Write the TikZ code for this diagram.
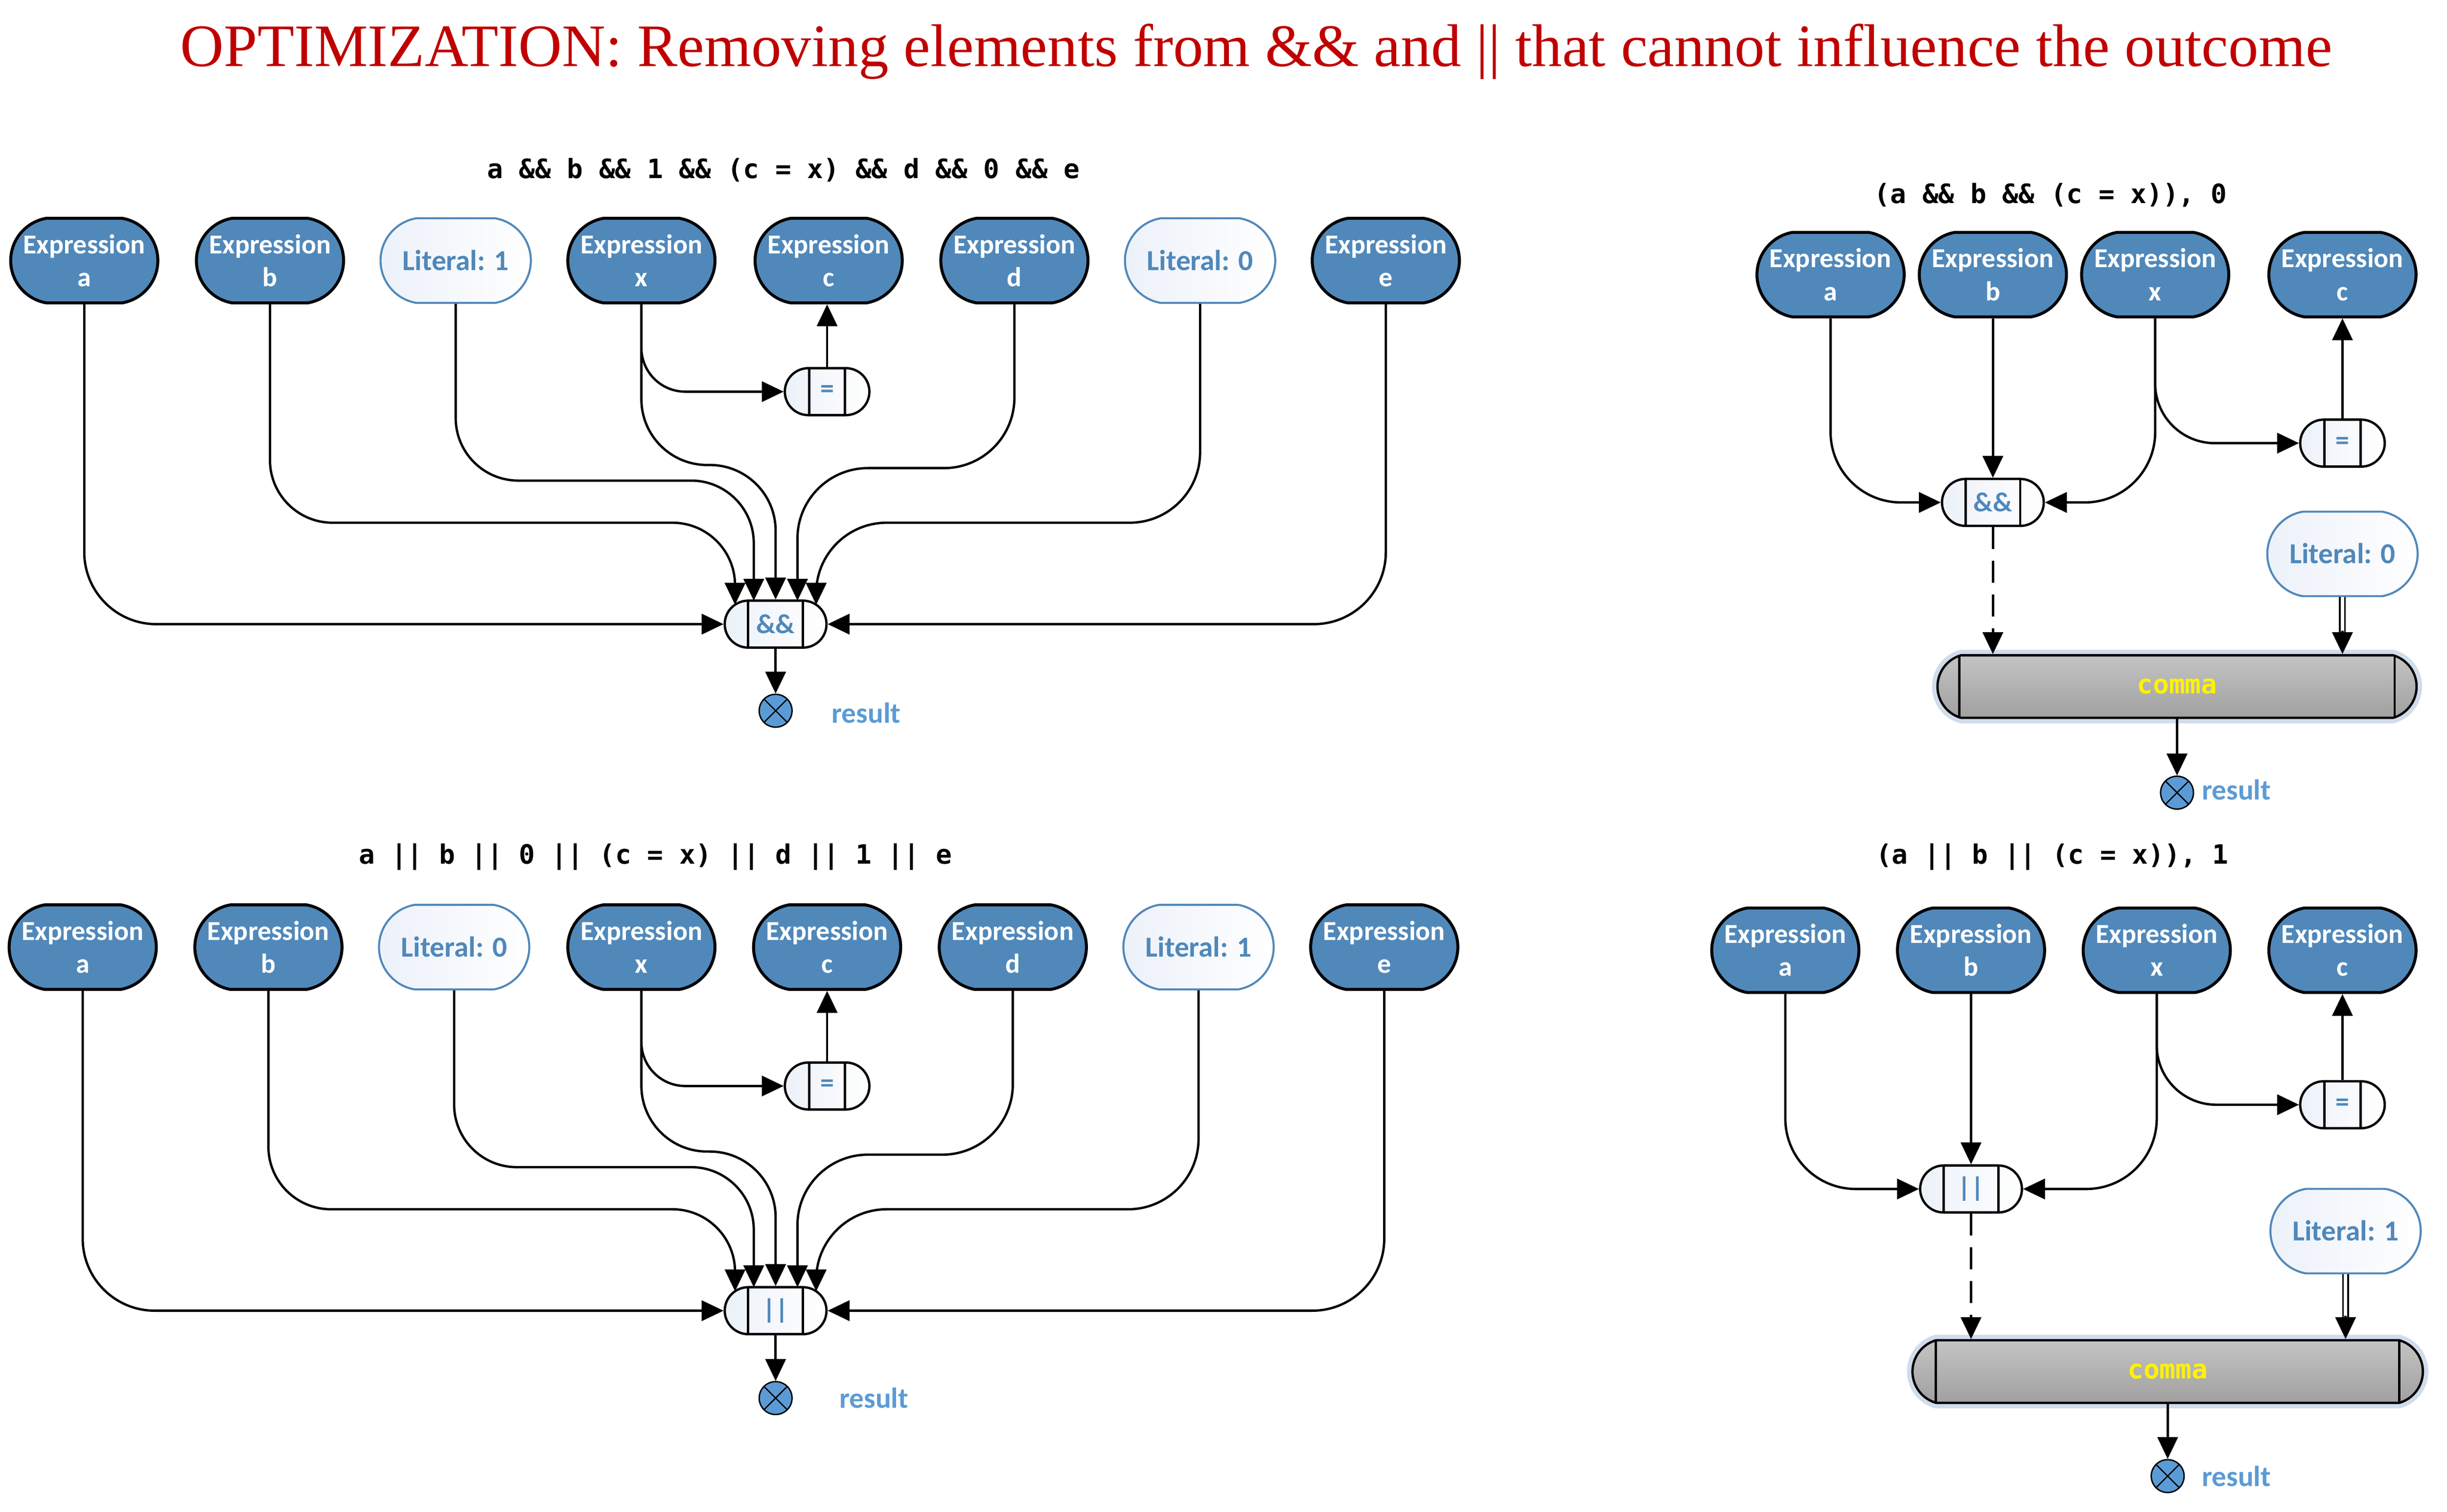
\documentclass[tikz,border=0pt]{standalone}
\usepackage{fontspec}
\setmainfont{Carlito}
\newfontfamily\titlefont{Liberation Serif}
\newfontfamily\codefont{DejaVu Sans Mono}
\usetikzlibrary{shapes.misc,arrows.meta,calc}
\definecolor{exprblue}{RGB}{80,136,186}
\definecolor{resblue}{RGB}{91,155,213}
\definecolor{litfill}{RGB}{236,241,249}
\definecolor{titlered}{RGB}{192,0,0}
\definecolor{commatop}{RGB}{196,196,196}
\definecolor{commabot}{RGB}{160,160,160}
\definecolor{commaglow}{RGB}{150,178,212}
\newcommand{\ztext}[1]{\makebox[0pt]{\raisebox{-1.8pt}[\height][\depth]{\begin{tabular}{@{}c@{}}#1\end{tabular}}}}
\tikzset{
  nfont/.style={font=\bfseries\fontsize{17.5}{21}\selectfont},
  bigfont/.style={font=\bfseries\fontsize{18.5}{22}\selectfont},
  expr/.style={rounded rectangle, rounded rectangle arc length=160, minimum width=94pt, minimum height=54pt, inner sep=0pt, fill=exprblue, draw=black, line width=1.9pt, text=white, nfont},
  lit/.style={rounded rectangle, rounded rectangle arc length=160, minimum width=96pt, minimum height=54pt, inner sep=0pt, draw=exprblue, line width=1.3pt, left color=litfill, right color=white, text=exprblue, bigfont},
  opnode/.style={rounded rectangle, rounded rectangle arc length=180, minimum height=30pt, inner sep=0pt, draw=black, line width=1.5pt, left color=litfill, right color=white, text=exprblue, nfont,
    path picture={\draw[black,line width=1.5pt] ([xshift=-#1]path picture bounding box.north) -- ([xshift=-#1]path picture bounding box.south) ([xshift=#1]path picture bounding box.north) -- ([xshift=#1]path picture bounding box.south);}},
  andor/.style={opnode=17.5pt, minimum width=65pt},
  assign/.style={opnode=11.5pt, minimum width=54pt},
  commanode/.style={opnode=#1, rounded rectangle arc length=148, minimum height=40pt, top color=commatop, bottom color=commabot, text=yellow, font=\codefont\bfseries\fontsize{17}{20}\selectfont, preaction={draw=commaglow, line width=7pt, opacity=0.45}},
  result/.style={circle, minimum size=21pt, inner sep=0pt, fill=resblue, draw=black, line width=0.9pt,
    path picture={\draw[black, line width=0.8pt] (path picture bounding box.north west) -- (path picture bounding box.south east) (path picture bounding box.north east) -- (path picture bounding box.south west);}},
  reslabel/.style={text=resblue, bigfont},
  code/.style={font=\codefont\bfseries\fontsize{17}{20}\selectfont},
  conn/.style={line width=1.5pt, -{Triangle[length=14pt,width=13pt]}},
  dashconn/.style={conn, dash pattern=on 14pt off 7.5pt},
  dbl/.style={line width=1.1pt, double=white, double distance=2.2pt, shorten >=13pt},
}
\begin{document}
\begin{tikzpicture}[x=0.9968pt,y=-0.9968pt]
\useasboundingbox (0,0) rectangle (1568,968.75);

% title
\node[font=\titlefont\fontsize{38.5}{42}\selectfont, text=titlered] (title) at (805,33) {OPTIMIZATION: Removing elements from \&\& and || that cannot influence the outcome};

% ===== top-left =====
\node[code] (codeTL) at (502,109) {a \&\& b \&\& 1 \&\& (c = x) \&\& d \&\& 0 \&\& e};
\node[expr] (aTL) at (54,167) {\ztext{Expression\\a}};
\node[expr] (bTL) at (173,167) {\ztext{Expression\\b}};
\node[lit] (l1TL) at (292,167) {\ztext{Literal: 1}};
\node[expr] (xTL) at (411,167) {\ztext{Expression\\x}};
\node[expr] (cTL) at (531,167) {\ztext{Expression\\c}};
\node[expr] (dTL) at (650,167) {\ztext{Expression\\d}};
\node[lit] (l0TL) at (769,167) {\ztext{Literal: 0}};
\node[expr] (eTL) at (888,167) {\ztext{Expression\\e}};
\node[assign] (eqTL) at (530,251) {=};
\node[andor] (opTL) at (497,400) {\&\&};
\node[result] (resTL) at (497,455.5) {};
\node[reslabel] (rlTL) at (555,457) {result};

\draw[conn, rounded corners=46pt] (aTL.south) |- (opTL.west);
\draw[conn, rounded corners=40pt] (bTL.south) |- ($(opTL.center)+(-26,-65)$) -- ($(opTL.center)+(-26,-12.4)$);
\draw[conn, rounded corners=40pt] (l1TL.south) |- ($(opTL.center)+(-14,-92)$) -- ($(opTL.center)+(-14,-15)$);
\draw[conn, rounded corners=28pt] (xTL.south) |- (eqTL.west);
\draw[conn, rounded corners=42pt] (xTL.south) |- ($(opTL.center)+(0,-102)$) -- (opTL.north);
\draw[conn, rounded corners=45pt] (dTL.south) |- ($(opTL.center)+(14,-100)$) -- ($(opTL.center)+(14,-15)$);
\draw[conn, rounded corners=45pt] (l0TL.south) |- ($(opTL.center)+(26,-65)$) -- ($(opTL.center)+(26,-12.4)$);
\draw[conn, rounded corners=46pt] (eTL.south) |- (opTL.east);
\draw[conn] (eqTL.north) -- (eqTL.north |- cTL.south);
\draw[conn] (opTL.south) -- (resTL.north);

% ===== bottom-left =====
\node[code] (codeBL) at (420,549) {a || b || 0 || (c = x) || d || 1 || e};
\node[expr] (aBL) at (53,607) {\ztext{Expression\\a}};
\node[expr] (bBL) at (172,607) {\ztext{Expression\\b}};
\node[lit] (l0BL) at (291,607) {\ztext{Literal: 0}};
\node[expr] (xBL) at (411,607) {\ztext{Expression\\x}};
\node[expr] (cBL) at (530,607) {\ztext{Expression\\c}};
\node[expr] (dBL) at (649,607) {\ztext{Expression\\d}};
\node[lit] (l1BL) at (768,607) {\ztext{Literal: 1}};
\node[expr] (eBL) at (887,607) {\ztext{Expression\\e}};
\node[assign] (eqBL) at (530,696) {=};
\node[andor] (opBL) at (497,840) {||};
\node[result] (resBL) at (497,896) {};
\node[reslabel] (rlBL) at (560,896) {result};

\draw[conn, rounded corners=46pt] (aBL.south) |- (opBL.west);
\draw[conn, rounded corners=40pt] (bBL.south) |- ($(opBL.center)+(-26,-65)$) -- ($(opBL.center)+(-26,-12.4)$);
\draw[conn, rounded corners=40pt] (l0BL.south) |- ($(opBL.center)+(-14,-92)$) -- ($(opBL.center)+(-14,-15)$);
\draw[conn, rounded corners=28pt] (xBL.south) |- (eqBL.west);
\draw[conn, rounded corners=42pt] (xBL.south) |- ($(opBL.center)+(0,-102)$) -- (opBL.north);
\draw[conn, rounded corners=45pt] (dBL.south) |- ($(opBL.center)+(14,-100)$) -- ($(opBL.center)+(14,-15)$);
\draw[conn, rounded corners=45pt] (l1BL.south) |- ($(opBL.center)+(26,-65)$) -- ($(opBL.center)+(26,-12.4)$);
\draw[conn, rounded corners=46pt] (eBL.south) |- (opBL.east);
\draw[conn] (eqBL.north) -- (eqBL.north |- cBL.south);
\draw[conn] (opBL.south) -- (resBL.north);

% ===== top-right =====
\node[code] (codeTR) at (1314,125) {(a \&\& b \&\& (c = x)), 0};
\node[expr] (aTR) at (1173,176) {\ztext{Expression\\a}};
\node[expr] (bTR) at (1277,176) {\ztext{Expression\\b}};
\node[expr] (xTR) at (1381,176) {\ztext{Expression\\x}};
\node[expr] (cTR) at (1501,176) {\ztext{Expression\\c}};
\node[assign] (eqTR) at (1501,284) {=};
\node[andor] (opTR) at (1277,322) {\&\&};
\node[lit] (litTR) at (1501,355) {\ztext{Literal: 0}};
\node[commanode=139pt, minimum width=306pt] (commaTR) at (1395,440) {comma};
\node[result] (resTR) at (1395,508) {};
\node[reslabel] (rlTR) at (1433,506) {result};

\draw[conn, rounded corners=45pt] (aTR.south) |- (opTR.west);
\draw[conn] (bTR.south) -- (opTR.north);
\draw[conn, rounded corners=45pt] (xTR.south) |- (opTR.east);
\draw[conn, rounded corners=38pt] (xTR.south) |- (eqTR.west);
\draw[conn] (eqTR.north) -- (eqTR.north |- cTR.south);
\draw[dashconn] (opTR.south) -- (opTR.south |- commaTR.north);
\draw[dbl] (litTR.south) -- (litTR.south |- commaTR.north);
\draw[conn] ($(litTR.south |- commaTR.north)+(0,-15)$) -- (litTR.south |- commaTR.north);
\draw[conn] (commaTR.south) -- (resTR.north);

% ===== bottom-right =====
\node[code] (codeBR) at (1315,549) {(a || b || (c = x)), 1};
\node[expr] (aBR) at (1144,609) {\ztext{Expression\\a}};
\node[expr] (bBR) at (1263,609) {\ztext{Expression\\b}};
\node[expr] (xBR) at (1382,609) {\ztext{Expression\\x}};
\node[expr] (cBR) at (1501,609) {\ztext{Expression\\c}};
\node[assign] (eqBR) at (1501,708) {=};
\node[andor] (opBR) at (1263,762) {||};
\node[lit] (litBR) at (1503,789) {\ztext{Literal: 1}};
\node[commanode=148pt, minimum width=326pt] (commaBR) at (1389,879) {comma};
\node[result] (resBR) at (1389,946) {};
\node[reslabel] (rlBR) at (1433,946) {result};

\draw[conn, rounded corners=45pt] (aBR.south) |- (opBR.west);
\draw[conn] (bBR.south) -- (opBR.north);
\draw[conn, rounded corners=45pt] (xBR.south) |- (opBR.east);
\draw[conn, rounded corners=38pt] (xBR.south) |- (eqBR.west);
\draw[conn] (eqBR.north) -- (eqBR.north |- cBR.south);
\draw[dashconn] (opBR.south) -- (opBR.south |- commaBR.north);
\draw[dbl] (litBR.south) -- (litBR.south |- commaBR.north);
\draw[conn] ($(litBR.south |- commaBR.north)+(0,-15)$) -- (litBR.south |- commaBR.north);
\draw[conn] (commaBR.south) -- (resBR.north);
\end{tikzpicture}
\end{document}
